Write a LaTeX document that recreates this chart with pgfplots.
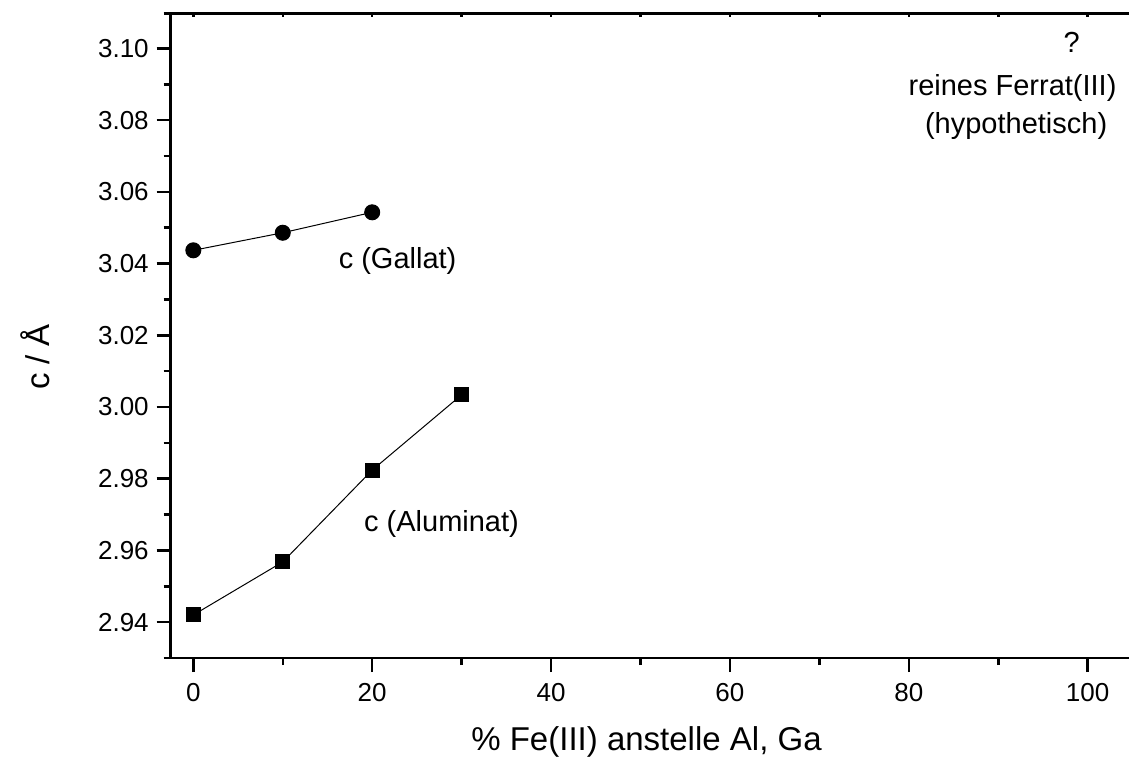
\documentclass[border=0pt]{standalone}
\usepackage{pgfplots}
\pgfplotsset{compat=1.18}
\usepackage{fontspec}
\setmainfont{Liberation Sans}

\newcommand\annotfont{\fontsize{17.4}{20}\selectfont}
\newcommand\labelfont{\fontsize{19.8}{22}\selectfont}

\begin{document}
\begin{tikzpicture}
% top frame line with its small inward ticks
\begin{axis}[
  at={(0,0)}, anchor=south west,
  scale only axis, width=574.98pt, height=386.82pt,
  xmin=-2.53, xmax=104.62, ymin=2.930, ymax=3.1098,
  axis x line*=top, axis y line=none,
  axis line style={-, line width=1.6pt, shorten <=-4.2pt},
  xtick={0,20,40,60,80,100}, minor xtick={10,30,50,70,90},
  xticklabels={}, ytick=\empty,
  tick align=inside,
  major tick length=2pt, minor tick length=2pt,
  every tick/.style={black, line width=1.5pt},
]
\end{axis}

\begin{axis}[
  at={(0,0)}, anchor=south west,
  scale only axis, width=574.98pt, height=386.82pt,
  xmin=-2.53, xmax=104.62, ymin=2.930, ymax=3.1098,
  axis x line*=bottom, axis y line*=left,
  axis line style={-, line width=1.6pt},
  every outer x axis line/.append style={shorten <=-4.2pt},
  xtick={0,20,40,60,80,100}, minor xtick={10,30,50,70,90},
  ytick={2.94,2.96,2.98,3.00,3.02,3.04,3.06,3.08,3.10},
  minor ytick={2.95,2.97,2.99,3.01,3.03,3.05,3.07,3.09},
  tick align=outside,
  major tick length=8.4pt, minor tick length=4.2pt,
  every tick/.style={black, line width=1.5pt},
  scaled y ticks=false,
  /pgf/number format/assume math mode=true,
  yticklabel style={/pgf/number format/fixed, /pgf/number format/fixed zerofill,
    /pgf/number format/precision=2},
  tick label style={font=\fontsize{15.6}{18}\selectfont, inner sep=0pt},
  xticklabel style={anchor=north},
  yticklabel style={anchor=east},
  xticklabel shift=6.6pt,
  yticklabel shift=4.6pt,
  every axis x label/.style={at={(rel axis cs:0.4965,-0.1427)}, anchor=base, font=\labelfont},
  every axis y label/.style={at={(rel axis cs:-0.1416,0.4669)}, anchor=center, rotate=90, font=\labelfont},
  xlabel={\% Fe(III) anstelle Al, Ga},
  ylabel={c / Å},
  clip=false,
]
% c of the gallate series
\addplot[black, line width=0.6pt, mark=*, mark size=4.5pt, mark options={solid, fill=black}]
  coordinates {(0,3.0437) (10,3.0486) (20,3.0543)};
% c of the aluminate series
\addplot[black, line width=0.6pt, mark=square*, mark size=4.2pt, mark options={solid, fill=black}]
  coordinates {(0,2.9420) (10,2.9568) (20,2.9824) (30,3.0034)};

\node[anchor=base, font=\annotfont] at (axis cs:98.2,3.0990) {?};
\node[anchor=base, font=\annotfont] at (axis cs:91.6,3.0870) {reines Ferrat(III)};
\node[anchor=base, font=\annotfont] at (axis cs:92.0,3.0764) {(hypothetisch)};
\node[anchor=base, font=\annotfont] at (axis cs:22.84,3.0385) {c (Gallat)};
\node[anchor=base, font=\annotfont] at (axis cs:27.75,2.9653) {c (Aluminat)};
\end{axis}

\pgfresetboundingbox
\path[use as bounding box] (-102.42pt,-61.2pt) rectangle (574.98pt,394.8pt);
\end{tikzpicture}
\end{document}
